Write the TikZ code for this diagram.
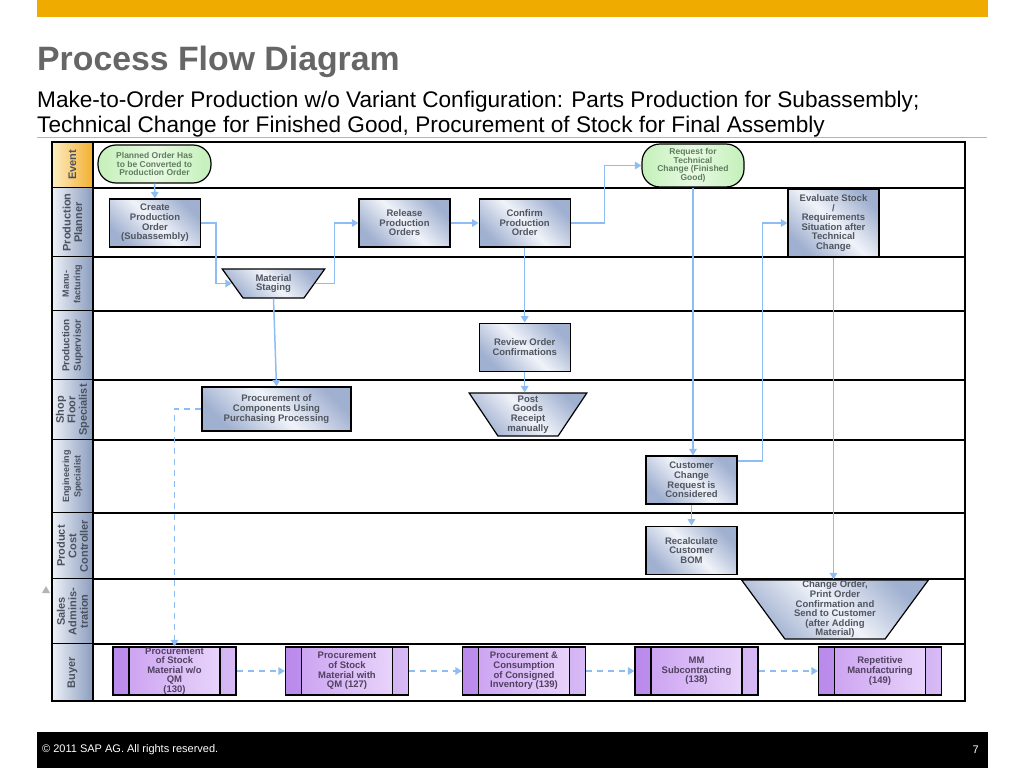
\documentclass[tikz,border=0pt]{standalone}
\usepackage{fontspec}
\setmainfont{Liberation Sans}
\usetikzlibrary{shapes.geometric, arrows.meta, positioning}
\definecolor{sapgold}{RGB}{240, 171, 0}
\definecolor{titlegrey}{RGB}{102, 102, 102}
\definecolor{rulegrey}{RGB}{180, 180, 180}
\definecolor{flowblue}{RGB}{141, 189, 242}
\definecolor{boxdark}{RGB}{160, 176, 208}
\definecolor{boxlight}{RGB}{240, 243, 249}
\definecolor{boxtext}{RGB}{80, 85, 95}
\definecolor{eventgreen}{RGB}{196, 240, 186}
\definecolor{eventlight}{RGB}{232, 250, 226}
\definecolor{eventtext}{RGB}{95, 125, 95}
\definecolor{buydark}{RGB}{200, 156, 240}
\definecolor{buylight}{RGB}{236, 220, 252}
\definecolor{buybar}{RGB}{176, 124, 232}
\definecolor{buytext}{RGB}{80, 65, 95}
\definecolor{lanelight}{RGB}{238, 241, 247}
\definecolor{lanedark}{RGB}{138, 156, 190}
\definecolor{lanetext}{RGB}{75, 82, 95}
\definecolor{eventlanelight}{RGB}{253, 238, 196}
\definecolor{eventlanedark}{RGB}{243, 174, 46}

\begin{document}
\begin{tikzpicture}[x=1pt, y=-1pt,
    task/.style={draw=black, line width=1.2pt, left color=boxdark, right color=boxdark,
                 middle color=boxlight, shading angle=135, text=boxtext, align=center,
                 font=\fontsize{9.5}{9.6}\selectfont\bfseries, minimum width=91pt,
                 minimum height=48pt, inner sep=1pt},
    event/.style={draw=black, line width=1.2pt, rounded corners=18pt, left color=eventgreen,
                  right color=eventgreen, middle color=eventlight, text=eventtext, align=center,
                  font=\fontsize{8.5}{8.6}\selectfont\bfseries, inner sep=1pt},
    manual/.style={trapezium, shape border rotate=180, trapezium stretches=true, draw=black,
                   line width=1.2pt, left color=boxdark, right color=boxdark, middle color=boxlight,
                   shading angle=135, text=boxtext, align=center,
                   font=\fontsize{9.5}{9.6}\selectfont\bfseries, inner xsep=1pt, inner ysep=0pt},
    buyproc/.style={draw=black, line width=1.2pt, left color=buydark, right color=buylight,
                    text=buytext, align=center, font=\fontsize{9.5}{9.6}\selectfont\bfseries,
                    minimum width=123pt, minimum height=48pt, inner sep=0.5pt,
                    path picture={
                      \fill[buybar, opacity=0.55] (path picture bounding box.north west)
                        rectangle ([xshift=16pt]path picture bounding box.south west);
                      \fill[buybar, opacity=0.35] (path picture bounding box.north east)
                        rectangle ([xshift=-16pt]path picture bounding box.south east);
                      \draw[line width=1.2pt] ([xshift=16pt]path picture bounding box.north west)
                        -- ([xshift=16pt]path picture bounding box.south west);
                      \draw[line width=1.2pt] ([xshift=-16pt]path picture bounding box.north east)
                        -- ([xshift=-16pt]path picture bounding box.south east);}},
    lanelabel/.style={rotate=90, align=center, text=lanetext, inner sep=0pt},
    flow/.style={draw=flowblue, line width=1.5pt, -{Triangle[length=6.5pt, width=7.5pt]}},
    dflow/.style={flow, dash pattern=on 6pt off 5pt}
]
    \useasboundingbox (0,0) rectangle (1024,768);

    \fill[sapgold] (37,0) rectangle (988,17);
    \node[anchor=base west, inner sep=0pt, text=titlegrey, font=\fontsize{33.8}{36}\selectfont\bfseries]
        (title) at (37,70.7) {Process Flow Diagram};
    \node[anchor=base west, inner sep=0pt, font=\fontsize{22.6}{24}\selectfont] (subtitle1) at (37,107)
        {Make-to-Order Production w/o Variant Configuration: Parts Production for Subassembly;};
    \node[anchor=base west, inner sep=0pt, font=\fontsize{22.6}{24}\selectfont] (subtitle2) at (37,132.5)
        {Technical Change for Finished Good, Procurement of Stock for Final Assembly};
    \draw[rulegrey, line width=0.8pt] (37,137.8) -- (987,137.8);

    \path[left color=eventlanelight, right color=eventlanedark] (52,142) rectangle (93,188);
    \node[lanelabel, font=\fontsize{11}{12}\selectfont\bfseries] (labevent) at (72.5,165) {Event};
    \draw[line width=1.6pt] (52,188) -- (965,188);
    \foreach \ltop/\lbot/\fsize/\ltext in {188/257/11/{Production\\Planner}, 257/311/9/{Manu-\\facturing},
        311/380/10/{Production\\Supervisor}, 380/440/11/{Shop\\Floor\\Specialist},
        440/513/9/{Engineering\\Specialist}, 513/579/11/{Product\\Cost\\Controller},
        579/644/11/{Sales\\Adminis-\\tration}, 644/701/11/{Buyer}} {
        \path[left color=lanelight, right color=lanedark] (52,\ltop) rectangle (93,\lbot);
        \node[lanelabel, font=\fontsize{\fsize}{11.5}\selectfont\bfseries] (lab\lbot)
            at (72.5,{(\ltop+\lbot)/2}) {\ltext};
        \draw[line width=1.6pt] (52,\lbot) -- (965,\lbot);
    }
    \draw[line width=1.8pt] (52,142) rectangle (965,701);
    \draw[line width=1.4pt] (93,142) -- (93,701);
    \fill[rulegrey] (42,593) -- (50,593) -- (46,586) -- cycle;

    \node[event, minimum width=113pt, minimum height=38pt] (planned) at (154.5,164)
        {Planned Order Has\\to be Converted to\\Production Order};
    \node[event, minimum width=102pt, minimum height=43pt] (techreq) at (693,165.5)
        {Request for\\Technical\\Change (Finished\\Good)};
    \node[task] (createpo) at (155,223) {Create\\Production\\Order\\(Subassembly)};
    \node[task] (releasepo) at (404.5,223) {Release\\Production\\Orders};
    \node[task, right=28pt of releasepo] (confirmpo) {Confirm\\Production\\Order};
    \node[task, minimum height=68pt] (evalstock) at (833.5,223)
        {Evaluate Stock\\/\\Requirements\\Situation after\\Technical\\Change};
    \node[manual, trapezium angle=55, minimum width=103pt, minimum height=29pt] (staging)
        at (273.5,283.5) {Material\\Staging};
    \node[task, below=75pt of confirmpo] (review) {Review Order\\Confirmations};
    \node[manual, trapezium angle=61, minimum width=118pt, minimum height=43pt] (postgr)
        at (528,414.5) {Post\\Goods\\Receipt\\manually};
    \node[task, minimum width=149pt, minimum height=44pt] (purchproc) at (276.5,409)
        {Procurement of\\Components Using\\Purchasing Processing};
    \node[task] (custreq) at (691.5,480) {Customer\\Change\\Request is\\Considered};
    \node[task, below=21pt of custreq] (recalc) {Recalculate\\Customer\\BOM};
    \node[manual, trapezium angle=57.5, minimum width=187pt, minimum height=59pt] (chgorder)
        at (835,609.5) {Change Order,\\Print Order\\Confirmation and\\Send to Customer\\(after Adding\\Material)};

    \node[buyproc] (buy130) at (174.5,671) {Procurement\\of Stock\\Material w/o\\QM\\(130)};
    \node[buyproc] (buy127) at (347,671) {Procurement\\of Stock\\Material with\\QM (127)};
    \node[buyproc] (buy139) at (524,671) {Procurement \&\\Consumption\\of Consigned\\Inventory (139)};
    \node[buyproc] (buy138) at (696.5,671) {MM\\Subcontracting\\(138)};
    \node[buyproc] (buy149) at (880,671) {Repetitive\\Manufacturing\\(149)};

    \draw[flow] (planned.south) -- (createpo.north);
    \draw[flow] (createpo.east) -- ++(15,0) |- (staging.west);
    \draw[flow] (staging.east) -| ([xshift=-24pt]releasepo.west) -- (releasepo.west);
    \draw[flow] (releasepo) -- (confirmpo);
    \draw[flow] (confirmpo.east) -| ([xshift=-37pt]techreq.west) -- (techreq.west);
    \draw[flow] (confirmpo) -- (review);
    \draw[flow] (review.south) -- (review.south |- postgr.north);
    \draw[flow] (staging.south) -- (purchproc.north);
    \draw[dflow] (purchproc.west) -| (buy130.north);
    \draw[flow] (techreq.south) -- (techreq.south |- custreq.north);
    \draw[flow] ([yshift=19pt]custreq.east) -| ([xshift=-25pt]evalstock.west) -- (evalstock.west);
    \draw[flow] (custreq) -- (recalc);
    \draw[flow] (evalstock.south) -- (evalstock.south |- chgorder.north);
    \foreach \from/\to in {buy130/buy127, buy127/buy139, buy139/buy138, buy138/buy149}
        \draw[dflow] (\from) -- (\to);

    \fill[black] (37,732) rectangle (988,768);
    \node[anchor=west, inner sep=0pt, text=white, font=\fontsize{11}{12}\selectfont] (copyright)
        at (42,750) {© 2011 SAP AG. All rights reserved.};
    \node[anchor=east, inner sep=0pt, text=white, font=\fontsize{11}{12}\selectfont] (pagenum)
        at (979,750) {7};
\end{tikzpicture}
\end{document}
